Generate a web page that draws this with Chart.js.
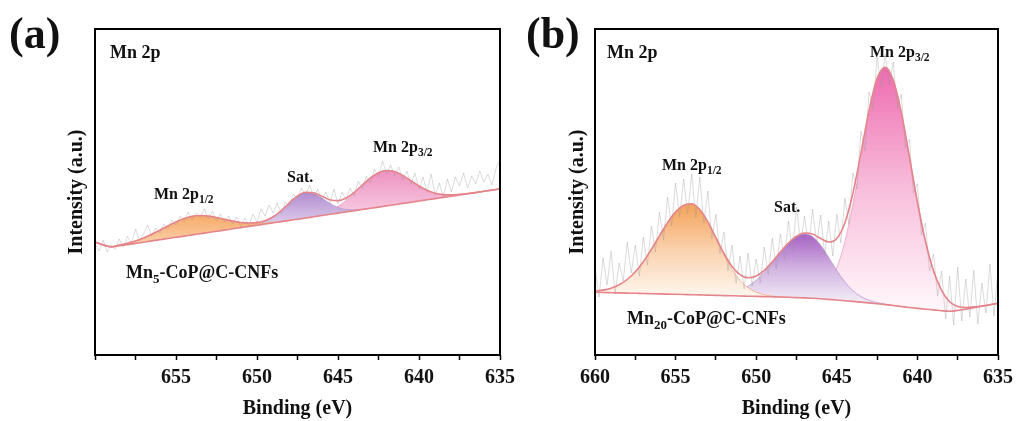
<!DOCTYPE html>
<html lang="en">
<head>
    <meta charset="UTF-8">
    <title>Mn 2p XPS</title>
    <style>
        body {
            margin: 0;
            background: #ffffff;
            width: 1019px;
            height: 421px;
            position: relative;
            overflow: hidden;
        }
        canvas {
            position: absolute;
            top: 0;
        }
        #chartA { left: 0; }
        #chartB { left: 509px; }
    </style>
</head>
<body>
    <canvas id="chartA" width="540" height="421"></canvas>
    <canvas id="chartB" width="510" height="421"></canvas>

    <script src="https://cdn.jsdelivr.net/npm/chart.js"></script>
    <script>
        // binding energy of the raw spectra (eV)
        const rawEnergy = [
            660, 659.75, 659.5, 659.25, 659, 658.75, 658.5, 658.25, 658, 657.75,
            657.5, 657.25, 657, 656.75, 656.5, 656.25, 656, 655.75, 655.5, 655.25,
            655, 654.75, 654.5, 654.25, 654, 653.75, 653.5, 653.25, 653, 652.75,
            652.5, 652.25, 652, 651.75, 651.5, 651.25, 651, 650.75, 650.5, 650.25,
            650, 649.75, 649.5, 649.25, 649, 648.75, 648.5, 648.25, 648, 647.75,
            647.5, 647.25, 647, 646.75, 646.5, 646.25, 646, 645.75, 645.5, 645.25,
            645, 644.75, 644.5, 644.25, 644, 643.75, 643.5, 643.25, 643, 642.75,
            642.5, 642.25, 642, 641.75, 641.5, 641.25, 641, 640.75, 640.5, 640.25,
            640, 639.75, 639.5, 639.25, 639, 638.75, 638.5, 638.25, 638, 637.75,
            637.5, 637.25, 637, 636.75, 636.5, 636.25, 636, 635.75, 635.5, 635.25,
            635
        ];

        // binding energy of the fitted curves (eV)
        const fitEnergy = [
            660, 659.5, 659, 658.5, 658, 657.5, 657, 656.5, 656, 655.5,
            655, 654.5, 654, 653.5, 653, 652.5, 652, 651.5, 651, 650.5,
            650, 649.5, 649, 648.5, 648, 647.5, 647, 646.5, 646, 645.5,
            645, 644.5, 644, 643.5, 643, 642.5, 642, 641.5, 641, 640.5,
            640, 639.5, 639, 638.5, 638, 637.5, 637, 636.5, 636, 635.5,
            635
        ];

        // (a) Mn5-CoP@C-CNFs, intensity in a.u.
        const rawA = [
            112, 104, 115, 103, 110, 106, 116, 108, 119, 111,
            126, 114, 121, 130, 119, 127, 122, 131, 126, 135,
            130, 139, 133, 143, 135, 142, 137, 146, 136, 144,
            134, 141, 133, 139, 131, 138, 128, 137, 130, 141,
            133, 146, 139, 150, 142, 152, 141, 153, 149, 161,
            156, 167, 160, 170, 158, 166, 155, 163, 152, 166,
            151, 163, 155, 167, 159, 174, 166, 179, 172, 186,
            178, 194, 181, 190, 179, 188, 175, 184, 171, 182,
            166, 178, 163, 181, 160, 172, 158, 176, 163, 178,
            169, 182, 167, 179, 171, 184, 173, 181, 170, 186,
            197
        ];
        const envelopeA = [
            113.0, 110.2, 108.3, 109.9, 111.8, 114.1, 117.0, 120.7, 124.7, 129.0,
            133.1, 136.5, 138.7, 139.5, 138.9, 137.5, 135.6, 133.9, 132.5, 132.0,
            132.4, 134.3, 138.3, 144.5, 152.2, 159.2, 162.8, 162.2, 158.8, 155.3,
            154.4, 157.0, 162.7, 170.0, 177.1, 182.3, 184.5, 183.4, 179.6, 174.3,
            169.0, 164.7, 161.8, 160.4, 160.1, 160.6, 161.4, 162.5, 163.7, 164.9,
            166.1
        ];
        const baselineA = [
            113, 110, 108, 109.2, 110.4, 111.6, 112.8, 114.1, 115.3, 116.5,
            117.7, 118.9, 120.1, 121.3, 122.5, 123.7, 124.9, 126.2, 127.4, 128.6,
            129.8, 131.0, 132.2, 133.4, 134.6, 135.8, 137.0, 138.2, 139.5, 140.7,
            141.9, 143.1, 144.3, 145.5, 146.7, 147.9, 149.1, 150.3, 151.6, 152.8,
            154.0, 155.2, 156.4, 157.6, 158.8, 160.0, 161.2, 162.4, 163.7, 164.9,
            166.1
        ];
        const p12A = [
            113.1, 110.2, 108.3, 109.9, 111.8, 114.1, 117.0, 120.7, 124.7, 129.0,
            133.1, 136.5, 138.7, 139.5, 138.9, 137.5, 135.6, 133.9, 132.5, 131.7,
            131.6, 131.9, 132.7, 133.6, 134.7, null, null, null, null, null,
            null, null, null, null, null, null, null, null, null, null,
            null, null, null, null, null, null, null, null, null, null,
            null
        ];
        const satA = [
            null, null, null, null, null, null, null, null, null, null,
            null, null, null, null, null, null, null, null, 127.4, 128.9,
            130.7, 133.4, 137.8, 144.3, 152.1, 159.0, 162.5, 161.4, 157.0, 151.6,
            147.5, 145.5, 145.2, 145.8, 146.8, null, null, null, null, null,
            null, null, null, null, null, null, null, null, null, null,
            null
        ];
        const p32A = [
            null, null, null, null, null, null, null, null, null, null,
            null, null, null, null, null, null, null, null, null, null,
            null, null, null, null, 134.6, 136.0, 137.3, 139.0, 141.3, 144.4,
            148.8, 154.6, 161.8, 169.7, 177.0, 182.3, 184.5, 183.4, 179.6, 174.3,
            169.0, 164.7, 161.8, 160.4, 160.1, 160.6, 161.4, 162.5, 163.7, null,
            null
        ];

        // (b) Mn20-CoP@C-CNFs, intensity in a.u.
        const rawB = [
            88, 58, 97, 70, 104, 61, 92, 74, 113, 82,
            110, 79, 118, 90, 129, 103, 143, 115, 158, 129,
            172, 138, 176, 141, 181, 137, 178, 132, 164, 116,
            141, 101, 123, 84, 110, 72, 99, 66, 102, 69,
            96, 72, 108, 80, 117, 86, 121, 95, 134, 103,
            148, 112, 139, 108, 146, 111, 140, 100, 134, 99,
            141, 112, 157, 131, 182, 166, 224, 204, 263, 246,
            298, 268, 301, 270, 293, 246, 261, 207, 216, 162,
            171, 120, 132, 84, 101, 59, 84, 36, 79, 30,
            88, 34, 76, 38, 85, 31, 72, 42, 91, 39,
            86
        ];
        const envelopeB = [
            63.9, 64.9, 66.8, 70.2, 75.5, 83.2, 93.3, 105.7, 119.2, 132.3,
            143.1, 149.8, 151.3, 145.5, 133.2, 117.3, 101.5, 88.6, 80.4, 77.2,
            79.0, 84.7, 93.2, 103.0, 112.0, 118.7, 122.0, 120.9, 116.5, 113.0,
            116.6, 132.1, 161.7, 202.1, 244.5, 276.6, 287.8, 274.9, 242.5, 198.5,
            153.0, 113.6, 84.2, 64.7, 53.3, 48.6, 47.5, 47.9, 49.0, 50.2,
            51.7
        ];
        const baselineB = [
            62.7, 62.5, 62.3, 62.1, 61.9, 61.7, 61.5, 61.3, 61.1, 60.9,
            60.7, 60.5, 60.3, 60.1, 59.9, 59.6, 59.4, 59.2, 59.0, 58.8,
            58.6, 58.4, 58.2, 58.0, 57.7, 57.4, 57.1, 56.7, 56.2, 55.6,
            55.0, 54.3, 53.6, 52.9, 52.1, 51.3, 50.4, 49.5, 48.5, 47.5,
            46.6, 45.8, 45.1, 44.3, 43.7, 44.5, 45.9, 47.4, 48.8, 50.2,
            51.7
        ];
        const p12B = [
            63.9, 64.9, 66.8, 70.2, 75.5, 83.2, 93.3, 105.7, 119.2, 132.3,
            143.1, 149.8, 151.3, 145.4, 132.9, 116.6, 100.0, 85.6, 74.7, 67.2,
            62.8, 60.3, 59.0, 58.3, 57.8, null, null, null, null, null,
            null, null, null, null, null, null, null, null, null, null,
            null, null, null, null, null, null, null, null, null, null,
            null
        ];
        const satB = [
            null, null, null, null, null, null, null, null, null, null,
            null, null, null, null, 60.2, 60.3, 60.9, 62.2, 64.7, 68.8,
            74.8, 82.8, 92.4, 102.7, 111.8, 118.4, 121.1, 118.3, 109.7, 97.4,
            84.5, 73.0, 64.3, 58.4, 54.7, 52.4, 50.8, 49.5, null, null,
            null, null, null, null, null, null, null, null, null, null,
            null
        ];
        const p32B = [
            null, null, null, null, null, null, null, null, null, null,
            null, null, null, null, null, null, null, null, null, null,
            null, null, null, 58.0, 57.8, 57.7, 58.0, 59.3, 63.0, 71.2,
            87.1, 113.4, 151.0, 196.6, 241.9, 275.5, 287.4, 274.9, 242.5, 198.5,
            153.0, 113.6, 84.2, 64.7, 53.3, 48.6, 47.5, 47.9, 49.0, null,
            null
        ];

        const serif = '"Liberation Serif", "Times New Roman", serif';
        const pts = (xs, ys) => xs.map((x, i) => ({ x: x, y: ys[i] }));

        // vertical gradient from the top of a peak down to its lowest point
        function peakGradient(stops) {
            return (c) => {
                const chart = c.chart;
                if (!chart.chartArea) return stops[0];
                const ys = chart.data.datasets[c.datasetIndex].data
                    .map(p => p.y).filter(v => v !== null);
                const sy = chart.scales.y;
                const g = chart.ctx.createLinearGradient(0, sy.getPixelForValue(Math.max(...ys)),
                                                         0, sy.getPixelForValue(Math.min(...ys)));
                stops.forEach((col, i) => g.addColorStop(i / (stops.length - 1), col));
                return g;
            };
        }

        // frame around the plot + text annotations
        function decorPlugin(labels) {
            return {
                id: 'decor',
                afterDraw(chart) {
                    const ctx = chart.ctx;
                    const a = chart.chartArea;
                    ctx.save();
                    ctx.strokeStyle = '#000';
                    ctx.lineWidth = 2;
                    ctx.strokeRect(a.left, a.top, a.right - a.left, a.bottom - a.top);
                    ctx.fillStyle = '#111';
                    ctx.textAlign = 'left';
                    ctx.textBaseline = 'alphabetic';
                    labels.forEach(l => {
                        let x = l.x;
                        l.runs.forEach(r => {
                            const size = r.sub ? l.size * 0.72 : l.size;
                            ctx.font = 'bold ' + size + 'px ' + serif;
                            ctx.fillText(r.t, x, l.y + (r.sub ? l.size * 0.25 : 0));
                            x += ctx.measureText(r.t).width;
                        });
                    });
                    ctx.restore();
                }
            };
        }

        function makeChart(id, o) {
            const lineStyle = { pointRadius: 0, fill: false, cubicInterpolationMode: 'monotone' };
            return new Chart(document.getElementById(id), {
                type: 'line',
                data: {
                    datasets: [
                        { label: 'Envelope', data: pts(fitEnergy, o.envelope), borderColor: '#e5848a',
                          borderWidth: 1.6, order: 0, ...lineStyle },
                        { label: 'Background', data: pts(fitEnergy, o.baseline), borderColor: '#e5848a',
                          borderWidth: 1.6, order: 1, ...lineStyle },
                        { label: 'Raw', data: pts(rawEnergy, o.raw), borderColor: 'rgba(150,150,150,0.38)',
                          borderWidth: 0.9, pointRadius: 0, tension: 0, fill: false, order: 2 },
                        { label: 'Mn 2p1/2', data: pts(fitEnergy, o.p12), borderColor: 'rgba(242,170,120,0.7)',
                          borderWidth: 1, backgroundColor: peakGradient(o.c12),
                          fill: { target: 1 }, pointRadius: 0, cubicInterpolationMode: 'monotone', order: 3 },
                        { label: 'Sat.', data: pts(fitEnergy, o.sat), borderColor: 'rgba(190,150,210,0.8)',
                          borderWidth: 1, backgroundColor: peakGradient(o.cSat),
                          fill: { target: 1 }, pointRadius: 0, cubicInterpolationMode: 'monotone', order: 4 },
                        { label: 'Mn 2p3/2', data: pts(fitEnergy, o.p32), borderColor: 'rgba(240,160,200,0.8)',
                          borderWidth: 1, backgroundColor: peakGradient(o.c32),
                          fill: { target: 1 }, pointRadius: 0, cubicInterpolationMode: 'monotone', order: 5 }
                    ]
                },
                options: {
                    responsive: false,
                    animation: false,
                    layout: { padding: { left: 0, right: o.padRight, top: 29, bottom: 0 } },
                    plugins: {
                        legend: { display: false },
                        tooltip: { enabled: false }
                    },
                    scales: {
                        x: {
                            type: 'linear',
                            reverse: true,
                            min: 635,
                            max: 660,
                            afterFit: s => { s.height = 66; },
                            border: { display: false },
                            grid: { drawOnChartArea: false, drawTicks: true, tickLength: 5,
                                    tickColor: '#000', tickWidth: 1.5 },
                            ticks: {
                                stepSize: 2.5,
                                autoSkip: false,
                                maxRotation: 0,
                                padding: 6,
                                color: '#111',
                                font: { family: serif, size: 20, weight: 'bold' },
                                callback: v => (v % 5 === 0 && !(o.hide660 && v === 660)) ? v : ''
                            },
                            title: {
                                display: true,
                                text: 'Binding (eV)',
                                color: '#111',
                                font: { family: serif, size: 20, weight: 'bold' },
                                padding: { top: 0, bottom: 0 }
                            }
                        },
                        y: {
                            min: 0,
                            max: 326,
                            afterFit: s => { s.width = o.yWidth; },
                            border: { display: false },
                            grid: { display: false },
                            ticks: { display: false },
                            title: {
                                display: true,
                                text: 'Intensity (a.u.)',
                                color: '#111',
                                font: { family: serif, size: 20, weight: 'bold' },
                                padding: { top: o.yTitlePad, bottom: 0 }
                            }
                        }
                    }
                },
                plugins: [decorPlugin(o.labels)]
            });
        }

        makeChart('chartA', {
            raw: rawA, envelope: envelopeA, baseline: baselineA, p12: p12A, sat: satA, p32: p32A,
            c12: ['#f7ab68', '#fbd3b0'],
            cSat: ['#b28bcf', '#e2d6ee'],
            c32: ['#ee92c1', '#f8d3e6'],
            hide660: true, yWidth: 95, padRight: 40, yTitlePad: 65,
            labels: [
                { x: 9, y: 48, size: 44, runs: [{ t: '(a)' }] },
                { x: 110, y: 58, size: 18, runs: [{ t: 'Mn 2p' }] },
                { x: 154, y: 199, size: 16, runs: [{ t: 'Mn 2p' }, { t: '1/2', sub: true }] },
                { x: 287, y: 182, size: 16, runs: [{ t: 'Sat.' }] },
                { x: 373, y: 152, size: 16, runs: [{ t: 'Mn 2p' }, { t: '3/2', sub: true }] },
                { x: 126, y: 278, size: 18, runs: [{ t: 'Mn' }, { t: '5', sub: true }, { t: '-CoP@C-CNFs' }] }
            ]
        });

        makeChart('chartB', {
            raw: rawB, envelope: envelopeB, baseline: baselineB, p12: p12B, sat: satB, p32: p32B,
            c12: ['#f5a258', '#fad2ae', '#fff7f0'],
            cSat: ['#a75fc6', '#d3b6e2', '#f6f2f9'],
            c32: ['#ee6cb0', '#f8bddb', '#fff6fa'],
            hide660: false, yWidth: 86, padRight: 19, yTitlePad: 57,
            labels: [
                { x: 17, y: 48, size: 44, runs: [{ t: '(b)' }] },
                { x: 98, y: 58, size: 18, runs: [{ t: 'Mn 2p' }] },
                { x: 153, y: 170, size: 16, runs: [{ t: 'Mn 2p' }, { t: '1/2', sub: true }] },
                { x: 265, y: 212, size: 16, runs: [{ t: 'Sat.' }] },
                { x: 361, y: 57, size: 16, runs: [{ t: 'Mn 2p' }, { t: '3/2', sub: true }] },
                { x: 118, y: 324, size: 18, runs: [{ t: 'Mn' }, { t: '20', sub: true }, { t: '-CoP@C-CNFs' }] }
            ]
        });
    </script>
</body>
</html>
